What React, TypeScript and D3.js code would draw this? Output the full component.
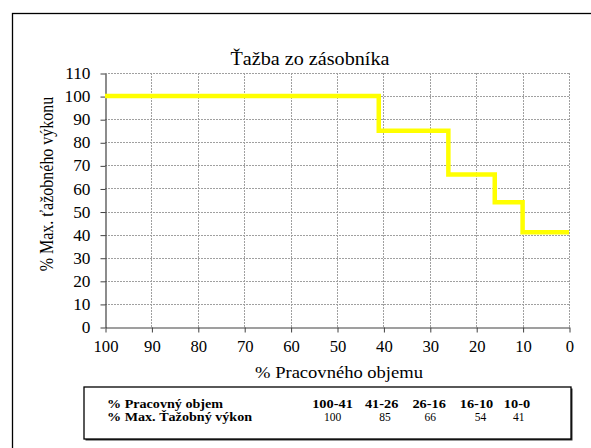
import { useEffect, useRef } from 'react';
import * as d3 from 'd3';

// step boundaries (% pracovného objemu) and the extraction power on each step
const stepX = [100, 41, 26, 16, 10, 0];
const stepY = [100, 85, 66, 54, 41, 41];

const yTicks = [0, 10, 20, 30, 40, 50, 60, 70, 80, 90, 100, 110];
const xTicks = [100, 90, 80, 70, 60, 50, 40, 30, 20, 10, 0];

// table under the chart
const tableRanges = ['100-41', '41-26', '26-16', '16-10', '10-0'];
const tableValues = ['100', '85', '66', '54', '41'];
const tableRowLabels = ['% Pracovný objem', '% Max. Ťažobný výkon'];

const FONT = "'Liberation Serif'";

const App = () => {
  const ref = useRef<SVGSVGElement>(null);

  useEffect(() => {
    const svg = d3.select(ref.current);
    svg.selectAll('*').remove();

    const plot = { left: 105, right: 569, top: 73, bottom: 327 };

    const x = d3.scaleLinear().domain([100, 0]).range([plot.left, plot.right]);
    const y = d3.scaleLinear().domain([0, 110]).range([plot.bottom, plot.top]);

    // the original picture is a bit stretched sideways, so text gets scaleX
    const label = (px: number, py: number, txt: string, size: number, sx: number,
      anchor = 'start', weight = 'normal') =>
      svg.append('text')
        .attr('transform', `translate(${px},${py}) scale(${sx},1)`)
        .attr('text-anchor', anchor)
        .attr('font-size', size)
        .attr('font-weight', weight)
        .style('font-family', FONT)
        .text(txt);

    svg.append('rect')
      .attr('width', 591).attr('height', 448).attr('fill', '#fff');

    // outer chart frame (runs off the picture on right and bottom)
    svg.append('rect')
      .attr('x', 12.5).attr('y', 13.5)
      .attr('width', 700).attr('height', 600)
      .attr('fill', 'none').attr('stroke', '#000').attr('stroke-width', 1.3);

    label(310, 65, 'Ťažba zo zásobníka', 18, 1.12, 'middle');

    // grid
    const grid = svg.append('g')
      .attr('stroke', '#a0a0a0').attr('stroke-width', 1)
      .attr('stroke-dasharray', '2,1');
    grid.selectAll('.hg').data(yTicks.filter(d => d > 0)).enter()
      .append('line')
      .attr('x1', plot.left).attr('x2', plot.right)
      .attr('y1', d => Math.round(y(d)) + 0.5).attr('y2', d => Math.round(y(d)) + 0.5);
    grid.selectAll('.vg').data(xTicks.filter(d => d < 100)).enter()
      .append('line')
      .attr('y1', plot.top).attr('y2', plot.bottom)
      .attr('x1', d => Math.round(x(d)) + 0.5).attr('x2', d => Math.round(x(d)) + 0.5);

    // axes
    const yAxis = svg.append('g')
      .attr('transform', `translate(${plot.left + 0.5},0.5)`)
      .call(d3.axisLeft(y).tickValues(yTicks).tickSize(5).tickPadding(10).tickSizeOuter(0));
    const xAxis = svg.append('g')
      .attr('transform', `translate(0.5,${Math.round(plot.bottom) + 0.5})`)
      .call(d3.axisBottom(x).tickValues(xTicks).tickSize(5).tickPadding(8).tickSizeOuter(0));

    [yAxis, xAxis].forEach(a => {
      a.attr('font-family', null).attr('font-size', null);
      a.select('.domain').attr('stroke', '#404040').attr('stroke-width', 1.2);
      a.selectAll('.tick line').attr('stroke', '#404040');
      a.selectAll('.tick text')
        .attr('fill', '#000')
        .attr('font-size', 16)
        .style('font-family', FONT);
    });
    yAxis.selectAll('.tick text').attr('x', -15 / 1.08).attr('transform', 'scale(1.08,1)');
    xAxis.selectAll('.tick text').attr('y', 25).attr('dy', 0).attr('transform', 'scale(1.04,1)');

    // step line
    const pts = stepX.map((v, i) => [v, stepY[i]] as [number, number]);
    const line = d3.line<[number, number]>()
      .x(d => x(d[0]))
      .y(d => y(d[1]))
      .curve(d3.curveStepAfter);
    svg.append('path')
      .attr('d', line(pts))
      .attr('fill', 'none')
      .attr('stroke', '#ffff00')
      .attr('stroke-width', 4.5)
      .attr('stroke-linejoin', 'miter')
      .attr('stroke-linecap', 'butt');

    // axis titles
    label(339, 378, '% Pracovného objemu', 16, 1.16, 'middle');
    svg.append('text')
      .attr('transform', 'translate(53,184) rotate(-90) scale(1,1.12)')
      .attr('text-anchor', 'middle')
      .attr('font-size', 16)
      .style('font-family', FONT)
      .text('% Max. ťažobného výkonu');

    // table box with shadow
    const tb = { x: 84, y: 387, w: 487, h: 52 };
    svg.append('rect')
      .attr('x', tb.x + 1.5).attr('y', tb.y + 1.5)
      .attr('width', tb.w).attr('height', tb.h)
      .attr('fill', '#333');
    svg.append('rect')
      .attr('x', tb.x).attr('y', tb.y)
      .attr('width', tb.w).attr('height', tb.h)
      .attr('fill', '#fff').attr('stroke', '#000').attr('stroke-width', 1.3);

    tableRowLabels.forEach((d, i) => label(107, 408 + i * 12.5, d, 12.5, 1.13, 'start', 'bold'));

    const colX = [332.5, 381.7, 429.2, 476.5, 517];
    const valX = [332.5, 385, 430.3, 480.5, 518.8];
    tableRanges.forEach((d, i) => label(colX[i], 408, d, 12.5, 1.15, 'middle', 'bold'));
    tableValues.forEach((d, i) => label(valX[i], 421, d, 11.5, 1, 'middle'));
  }, []);

  return (
    <svg ref={ref} width={591} height={448}
      style={{ position: 'absolute', left: 0, top: 0, display: 'block' }} />
  );
};

export default App;
